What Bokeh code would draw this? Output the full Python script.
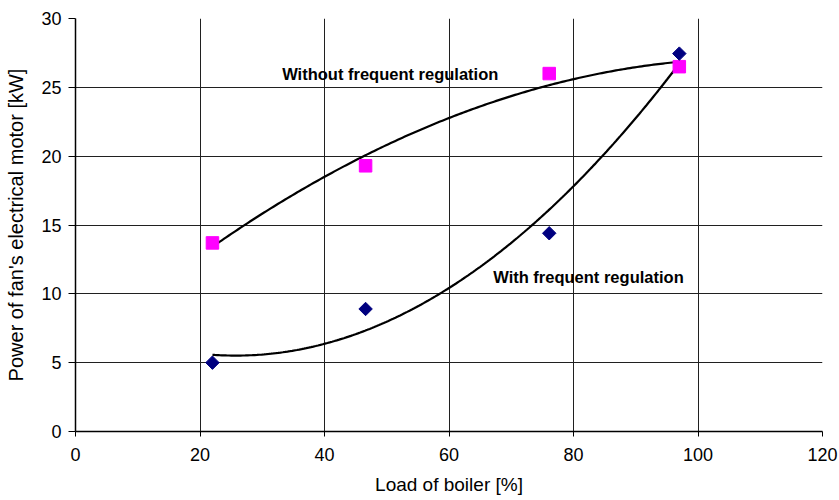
import numpy as np
from bokeh.plotting import figure
from bokeh.models import Range1d, FixedTicker, Label
from bokeh.embed import file_html
from bokeh.resources import INLINE

# Data
load_pct = [22.0, 46.6, 76.1, 97.0]
power_with_reg = [5.0, 8.9, 14.4, 27.45]      # navy diamonds
power_without_reg = [13.7, 19.3, 26.0, 26.5]  # magenta squares

x_ticks = [0, 20, 40, 60, 80, 100, 120]
y_ticks = [0, 5, 10, 15, 20, 25, 30]

FONT = "Liberation Sans"

p = figure(width=839, height=500, output_backend="svg", toolbar_location=None,
           x_range=Range1d(0, 120), y_range=Range1d(0, 30),
           min_border_left=75, min_border_right=17, min_border_top=18, min_border_bottom=69)
p.outline_line_color = None
p.background_fill_color = "white"

# grid
p.xgrid.ticker = FixedTicker(ticks=x_ticks)
p.ygrid.ticker = FixedTicker(ticks=y_ticks)
for g in (p.xgrid, p.ygrid):
    g.grid_line_color = "#202020"
    g.grid_line_width = 1

# axes
p.xaxis.ticker = FixedTicker(ticks=x_ticks)
p.yaxis.ticker = FixedTicker(ticks=y_ticks)
for ax in (p.xaxis, p.yaxis):
    ax.axis_line_color = "black"
    ax.axis_line_width = 1.5
    ax.major_tick_line_color = "black"
    ax.major_tick_in = 0
    ax.minor_tick_line_color = None
    ax.major_label_text_font = FONT
    ax.major_label_text_font_size = "18px"
    ax.major_label_text_color = "black"
    ax.axis_label_text_font = FONT
    ax.axis_label_text_font_style = "normal"
    ax.axis_label_text_color = "black"

p.xaxis.major_tick_out = 5
p.xaxis.major_label_standoff = 11
p.xaxis.axis_label = "Load of boiler [%]"
p.xaxis.axis_label_text_font_size = "19px"
p.xaxis.axis_label_standoff = 10

p.yaxis.major_tick_out = 7
p.yaxis.major_label_standoff = 7
p.yaxis.axis_label = "Power of fan's electrical motor [kW]"
p.yaxis.axis_label_text_font_size = "20px"
p.yaxis.axis_label_standoff = 11

# quadratic trend lines (least squares on the data, as in a spreadsheet trendline)
xs = np.linspace(load_pct[0], load_pct[-1], 200)
for ys in (power_without_reg, power_with_reg):
    coef = np.polyfit(load_pct, ys, 2)
    p.line(xs, np.polyval(coef, xs), line_color="black", line_width=2.2)

# markers
p.scatter(load_pct, power_without_reg, marker="square", size=12.5,
          fill_color="#FF00FF", line_color="#FF00FF")
p.scatter(load_pct, power_with_reg, marker="square", size=9.5, angle=np.pi / 4,
          fill_color="#000080", line_color="#000080")

# annotations
p.add_layout(Label(x=33.2, y=26.0, text="Without frequent regulation",
                   text_font=FONT, text_font_size="16.5px", text_font_style="bold",
                   text_color="black", text_baseline="middle", text_align="left"))
p.add_layout(Label(x=67.1, y=11.2, text="With frequent regulation",
                   text_font=FONT, text_font_size="16.5px", text_font_style="bold",
                   text_color="black", text_baseline="middle", text_align="left"))

open("out.html", "w").write(file_html(p, INLINE))
